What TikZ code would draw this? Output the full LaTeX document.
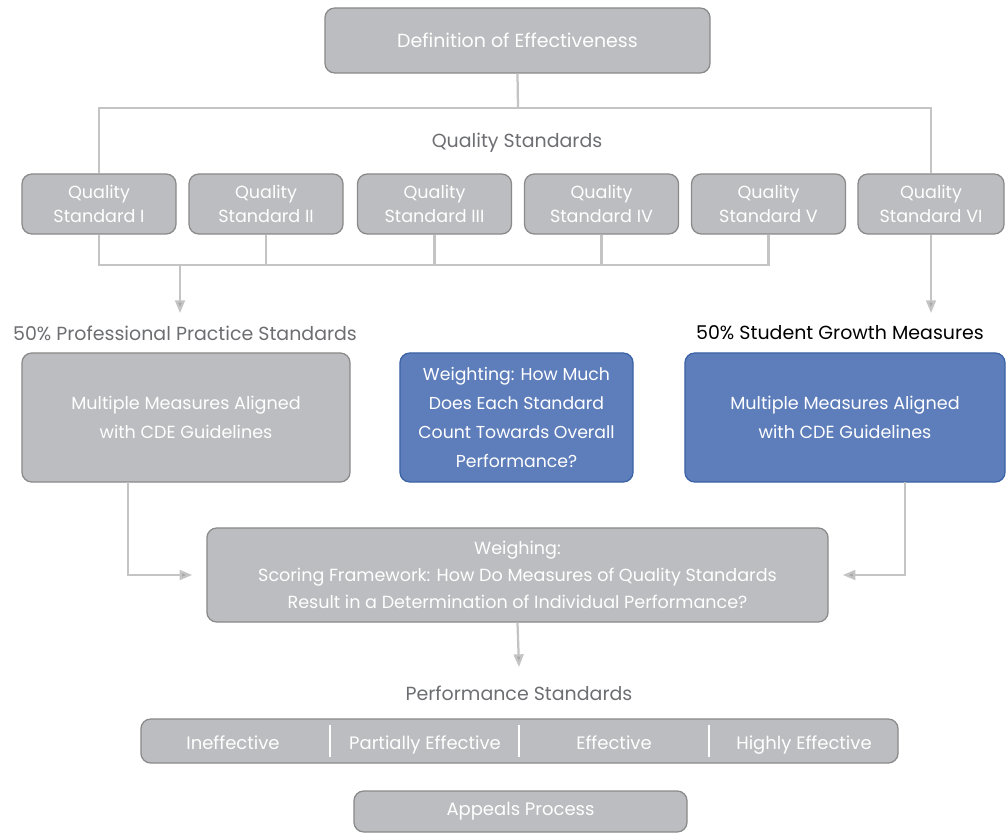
\documentclass[tikz,border=0pt]{standalone}
\usepackage{fontspec}
\setmainfont{Poppins}
\usepackage{xcolor}
\usepackage{tikz}
\usetikzlibrary{arrows.meta,positioning}
\definecolor{boxgray}{HTML}{BCBDC0}
\definecolor{edgegray}{HTML}{8A8A8A}
\definecolor{linegray}{HTML}{C4C4C4}
\definecolor{tipgray}{HTML}{A8A8A8}
\definecolor{boxblue}{HTML}{5E7EBB}
\definecolor{edgeblue}{HTML}{3A63A5}
\definecolor{labelgray}{HTML}{6D6E71}

\tikzset{
  graybox/.style={draw=edgegray,fill=boxgray,line width=0.9pt,rounded corners=7pt,
    text=white,align=center,inner sep=0pt},
  bluebox/.style={graybox,draw=edgeblue,fill=boxblue},
  biglabel/.style={font=\fontsize{13.5}{17}\selectfont},
  barlabel/.style={text=white,anchor=base,font=\fontsize{12.8}{17}\selectfont},
  link/.style={draw=linegray,line width=1.6pt},
  flow/.style={link,-{Triangle[length=9pt,width=7pt,fill=tipgray]}},
}

\begin{document}
\begin{tikzpicture}[x=0.025cm,y=-0.025cm,font=\fontsize{12.5}{17}\selectfont]
        \useasboundingbox (0,0) rectangle (1006,833);
        \path
        (517.5,40.5) node[graybox,biglabel,minimum width=9.625cm,minimum height=1.625cm](def) {Definition of Effectiveness}
        (517,143) node[biglabel,text=labelgray](qlabel) {Quality Standards}
        (99,204) node[graybox,minimum width=3.85cm,minimum height=1.5cm](qs1) {Quality\\Standard I}
        (266,204) node[graybox,minimum width=3.85cm,minimum height=1.5cm](qs2) {Quality\\Standard II}
        (434.5,204) node[graybox,minimum width=3.85cm,minimum height=1.5cm](qs3) {Quality\\Standard III}
        (601.5,204) node[graybox,minimum width=3.85cm,minimum height=1.5cm](qs4) {Quality\\Standard IV}
        (768.5,204) node[graybox,minimum width=3.85cm,minimum height=1.5cm](qs5) {Quality\\Standard V}
        (931,204) node[graybox,minimum width=3.65cm,minimum height=1.5cm](qs6) {Quality\\Standard VI}
        (185,333) node[biglabel,text=labelgray](pplabel) {50\% Professional Practice Standards}
        (840,333) node[biglabel,text=black](sglabel) {50\% Student Growth Measures}
        (186,417.5) node[graybox,minimum width=8.2cm,minimum height=3.225cm,
          font=\fontsize{12.5}{20.5}\selectfont](pp) {Multiple Measures Aligned\\with CDE Guidelines}
        (516.5,417.5) node[bluebox,minimum width=5.825cm,minimum height=3.225cm,
          font=\fontsize{12.3}{20.5}\selectfont](wt) {Weighting: How Much\\Does Each Standard\\Count Towards Overall\\Performance?}
        (845,417.5) node[bluebox,minimum width=8cm,minimum height=3.225cm,
          font=\fontsize{12.5}{20.5}\selectfont](sg) {Multiple Measures Aligned\\with CDE Guidelines}
        (517.5,575) node[graybox,minimum width=15.525cm,minimum height=2.35cm,
          font=\fontsize{12.5}{19}\selectfont](wg) {Weighing:\\Scoring Framework: How Do Measures of Quality Standards\\Result in a Determination of Individual Performance?}
        (519,693) node[biglabel,text=labelgray](pslabel) {Performance Standards}
        (519.5,741) node[graybox,minimum width=18.925cm,minimum height=1.1cm](ps) {}
        (233,749) node[barlabel](ps1) {Ineffective}
        (425,749) node[barlabel](ps2) {Partially Effective}
        (614,749) node[barlabel](ps3) {Effective}
        (804,749) node[barlabel](ps4) {Highly Effective}
        (520.5,811.5) node[graybox,minimum width=8.325cm,minimum height=1.025cm,
          font=\fontsize{12.8}{17}\selectfont](ap) {Appeals Process}
        ;

        % branches to the standards
        \coordinate (top) at (518,108);
        \coordinate (bus) at (180,265);
        \draw[link] (def.south) -- (top);
        \draw[link] (qs1.north) |- (top) -| (qs6.north);
        \draw[link] (qs1.south) |- (qs5.south |- bus) -- (qs5.south);
        \foreach \q in {qs2,qs3,qs4}
          \draw[link] (\q.south) -- (\q.south |- bus);

        \draw[flow] (bus) -- (180,313);
        \draw[flow] (qs6.south) -- (931,313);
        \draw[flow,shorten >=10pt] (128,482) |- (wg.west);
        \draw[flow,shorten >=10pt] (905,482) |- (wg.east);
        \draw[flow] (wg.south) -- (519,667);

        % dividers in the bar
        \foreach \x in {330,519,709}
          \draw[white,line width=1pt] (\x,725) -- (\x,757);
      \end{tikzpicture}
\end{document}
